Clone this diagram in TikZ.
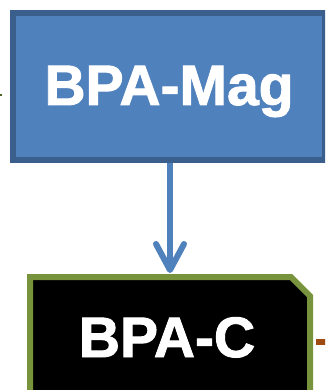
\documentclass[tikz,border=0pt]{standalone}
\usepackage{fontspec}
\setmainfont{Liberation Sans}
\newfontfamily\heavyfont[FakeBold=1.6]{Liberation Sans Bold}
\usetikzlibrary{calc}
\definecolor{boxblue}{HTML}{4F81BD}
\definecolor{boxblueline}{HTML}{3A5F8D}
\definecolor{boxgreen}{HTML}{77933C}
\definecolor{darkolive}{HTML}{4F6228}
\definecolor{rust}{HTML}{9E4B12}
\tikzset{
  bluebox/.style={draw=boxblueline, fill=boxblue, line width=6pt, rectangle,
    minimum width=312pt, minimum height=147pt, inner sep=0pt},
  bigtext/.style={text=white, font=\fontsize{57}{60}\heavyfont, inner sep=0pt},
  greenbox/.style={draw=boxgreen, fill=black, line width=6pt, line join=miter},
  conn/.style={draw=boxblue, line width=6pt},
  chev/.style={draw=boxblue, line width=6pt, line cap=round, line join=round},
}
\begin{document}
\begin{tikzpicture}[x=1pt, y=-1pt]
\useasboundingbox (0,0) rectangle (325,390);
\clip (0,0) rectangle (325,390);
% left stub
\draw[darkolive, line width=2pt] (-2,95) -- (2,95);
% top box
\node[bluebox] (mag) at (169,86.5) {};
\node[bigtext, anchor=base] (magtext) at (169,105) {BPA-Mag};
% bottom box
\path[greenbox] (30,420) -- (30,277) -- (291,277) -- (310,296) -- (310,420) -- cycle;
\node[bigtext, anchor=base] (bpac) at (167,357) {BPA-C};
\coordinate (ctop) at (170,270);
% right stub
\draw[rust, line width=6pt] (316,342) -- (330,342);
% connector
\draw[conn] (mag.south -| ctop) -- (ctop);
\draw[chev] ($(ctop)+(-14,-26)$) -- (ctop) -- ($(ctop)+(14,-26)$);
\end{tikzpicture}
\end{document}
